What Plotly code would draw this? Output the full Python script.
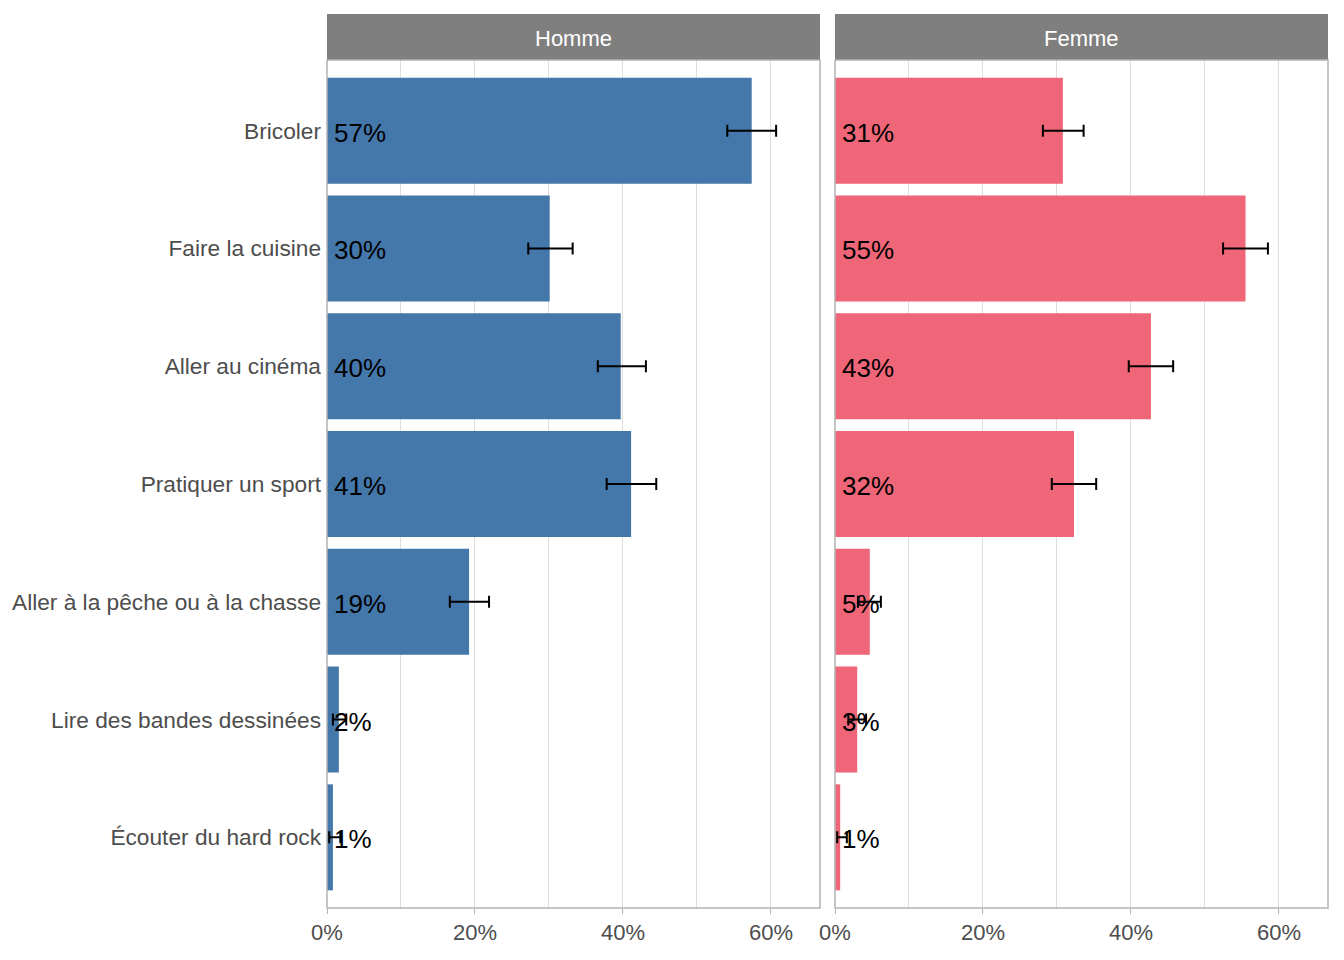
import plotly.graph_objects as go
from plotly.subplots import make_subplots

categories = ["Bricoler", "Faire la cuisine", "Aller au cinéma", "Pratiquer un sport",
              "Aller à la pêche ou à la chasse", "Lire des bandes dessinées", "Écouter du hard rock"]
panels = ["Homme", "Femme"]

homme_val = [0.574, 0.301, 0.397, 0.411, 0.192, 0.016, 0.008]
homme_low = [0.541, 0.272, 0.366, 0.378, 0.166, 0.008, 0.003]
homme_high = [0.607, 0.332, 0.431, 0.445, 0.219, 0.026, 0.018]

femme_val = [0.308, 0.5548, 0.427, 0.323, 0.047, 0.030, 0.007]
femme_low = [0.281, 0.5245, 0.397, 0.293, 0.031, 0.018, 0.003]
femme_high = [0.336, 0.5851, 0.457, 0.353, 0.062, 0.042, 0.016]

colors = ["#4477AA", "#EE6677"]
x_ticks = [0, 0.2, 0.4, 0.6]
x_ticklabels = ["0%", "20%", "40%", "60%"]

FONT = "Liberation Sans, Arial, sans-serif"
W, H = 1328, 944   # page body has an 8px margin
OFF = 8


def px(x):
    return (x - OFF) / W


def py(y):
    return 1 - (y - OFF) / H


fig = make_subplots(rows=1, cols=2, shared_yaxes=True, horizontal_spacing=0.01)

annotations = []
series = [(homme_val, homme_low, homme_high), (femme_val, femme_low, femme_high)]
for i, (vals, lows, highs) in enumerate(series):
    col = i + 1
    fig.add_trace(go.Bar(
        y=categories, x=vals, orientation="h", width=0.9,
        marker=dict(color=colors[i], line=dict(width=0)),
        error_x=dict(type="data", symmetric=False,
                     array=[h - v for h, v in zip(highs, vals)],
                     arrayminus=[v - l for v, l in zip(vals, lows)],
                     color="black", thickness=2, width=6),
        showlegend=False, hoverinfo="skip"), row=1, col=col)
    xr = "x" if i == 0 else "x2"
    yr = "y" if i == 0 else "y2"
    for cat, v in zip(categories, vals):
        annotations.append(dict(
            text=f"{round(v * 100):.0f}%", xref=xr, yref=yr, x=0, y=cat,
            xanchor="left", yanchor="middle", xshift=5, yshift=-2, showarrow=False,
            font=dict(family=FONT, size=26, color="black")))

x_domains = [[px(327), px(820)], [px(835), px(1328)]]
y_domain = [py(908), py(60)]
strip_top = py(14)

for i in range(2):
    ax = "xaxis" if i == 0 else "xaxis2"
    fig.layout[ax].update(
        domain=x_domains[i], range=[0, 0.6663],
        tickvals=x_ticks, ticktext=x_ticklabels,
        showgrid=True, gridcolor="#dedede", gridwidth=1,
        minor=dict(dtick=0.1, tick0=0, showgrid=True, gridcolor="#dedede", gridwidth=1, ticks=""),
        ticks="outside", ticklen=5, tickcolor="#b3b3b3", tickwidth=1,
        tickfont=dict(family=FONT, size=22, color="#4d4d4d"),
        showline=False, zeroline=False, fixedrange=True, automargin=False)
    ya = "yaxis" if i == 0 else "yaxis2"
    fig.layout[ya].update(
        domain=y_domain, categoryorder="array", categoryarray=categories,
        range=[6.6, -0.6], showgrid=False, zeroline=False, showline=False,
        ticks="", ticklabelstandoff=5,
        showticklabels=(i == 0), automargin=False,
        tickfont=dict(family=FONT, size=22.7, color="#4d4d4d"))

shapes = []
for i in range(2):
    x0, x1 = x_domains[i]
    shapes.append(dict(type="rect", xref="paper", yref="paper",
                       x0=x0, x1=x1, y0=y_domain[1], y1=strip_top,
                       fillcolor="#7f7f7f", line=dict(width=0), layer="above"))
    shapes.append(dict(type="rect", xref="paper", yref="paper",
                       x0=x0, x1=x1, y0=y_domain[0], y1=y_domain[1],
                       fillcolor="rgba(0,0,0,0)", line=dict(color="#b3b3b3", width=1.5), layer="above"))
    annotations.append(dict(text=panels[i], xref="paper", yref="paper",
                            x=(x0 + x1) / 2, y=(y_domain[1] + strip_top) / 2, yshift=-2,
                            showarrow=False, xanchor="center", yanchor="middle",
                            font=dict(family=FONT, size=22, color="white")))

fig.update_layout(
    width=W, height=H, margin=dict(l=0, r=0, t=0, b=0),
    plot_bgcolor="white", paper_bgcolor="white",
    shapes=shapes, annotations=annotations, bargap=0.1,
    font=dict(family=FONT))

fig.write_html("out.html")
